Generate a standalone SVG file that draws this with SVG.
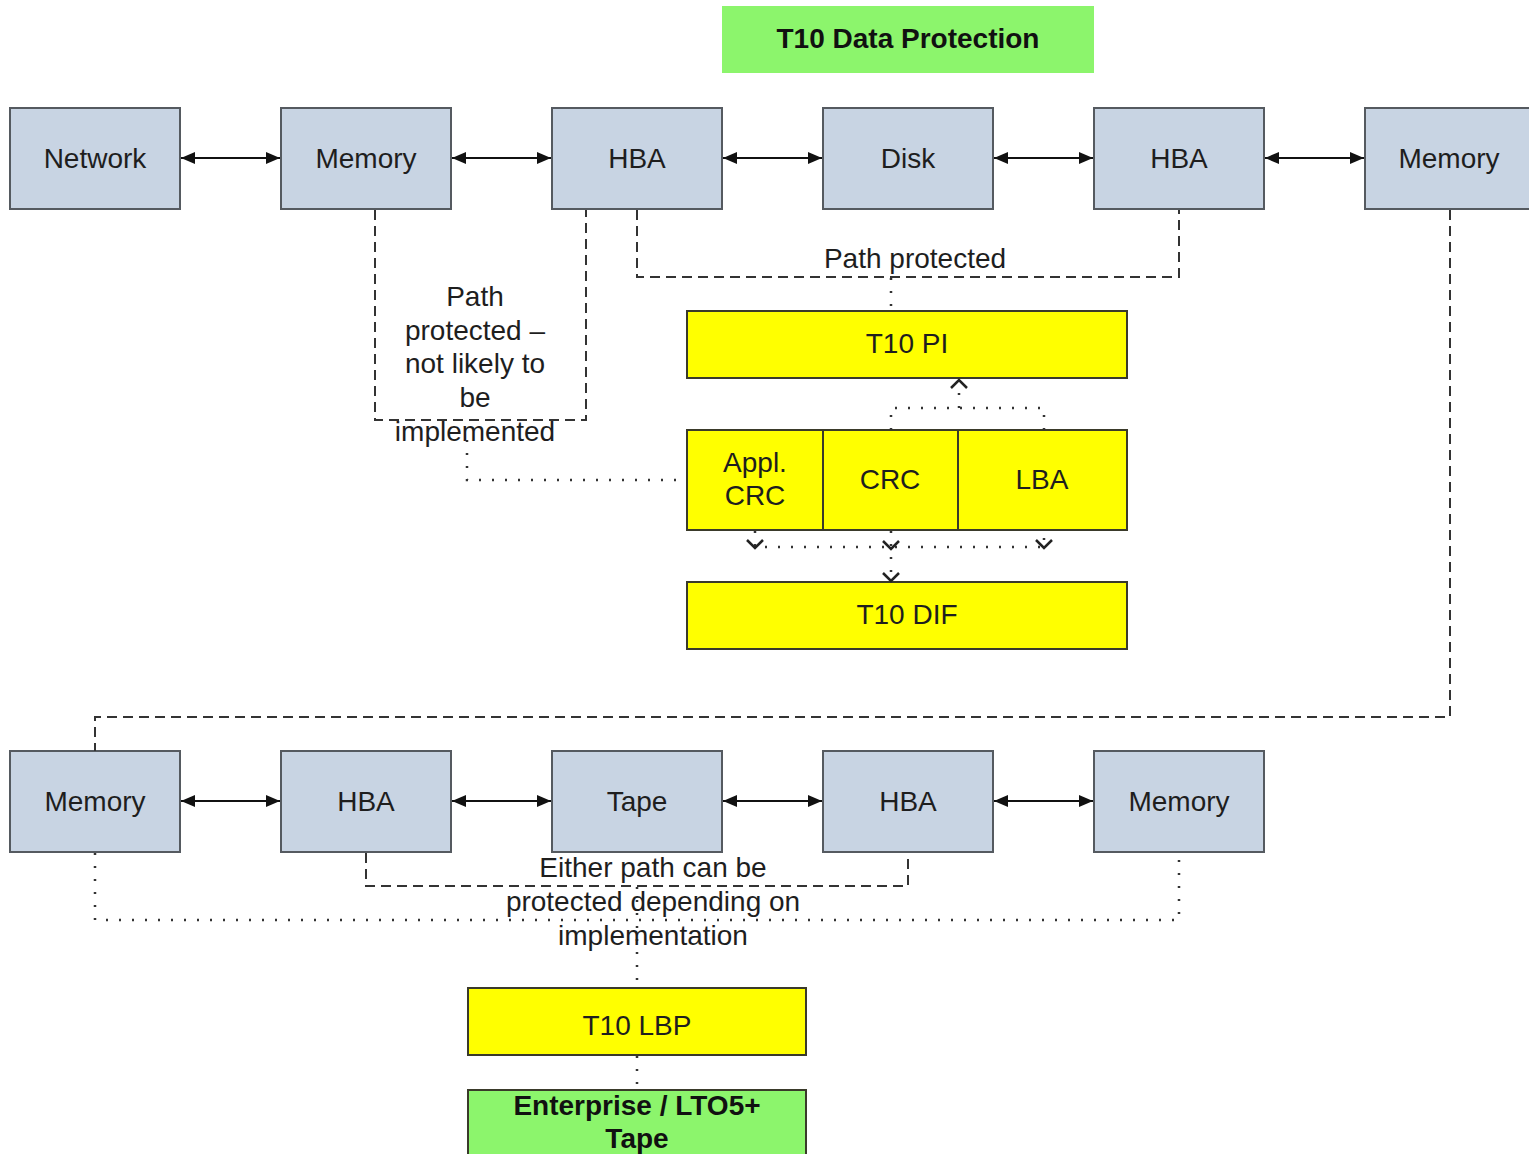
<svg xmlns="http://www.w3.org/2000/svg" width="1529" height="1154" viewBox="0 0 1529 1154">
<style>
.n{fill:#c8d4e3;stroke:#555a60;stroke-width:2}
.y{fill:#ffff00;stroke:#3a3a2a;stroke-width:2}
.g{fill:#8cf56c}
.gs{fill:#8cf56c;stroke:#3a3a2a;stroke-width:2}
.t{font-family:"Liberation Sans",Arial,sans-serif;font-size:28px;fill:#1e1e1e;text-anchor:middle}
.b{font-weight:bold;fill:#111}
.a{stroke:#111;stroke-width:2;fill:none;marker-start:url(#ah);marker-end:url(#ah)}
.d{stroke:#333;stroke-width:2;fill:none;stroke-dasharray:10 6}
.o{stroke:#333;stroke-width:2.5;fill:none;stroke-dasharray:2 11}
.ch{stroke:#222;stroke-width:2.5;fill:none}
</style>
<defs>
<marker id="ah" viewBox="0 0 14 12" refX="14" refY="6" markerWidth="14" markerHeight="12" markerUnits="userSpaceOnUse" orient="auto-start-reverse">
<path d="M0,0 L14,6 L0,12 Z" fill="#111"/>
</marker>
</defs>
<rect width="1529" height="1154" fill="#fff"/>

<g id="title"><rect class="g" x="722" y="6" width="372" height="67"/><text class="t b" x="908" y="48">T10 Data Protection</text></g>

<g id="network"><rect class="n" x="10" y="108" width="170" height="101"/><text class="t" x="95" y="168">Network</text></g>
<g id="memory1"><rect class="n" x="281" y="108" width="170" height="101"/><text class="t" x="366" y="168">Memory</text></g>
<g id="hba1"><rect class="n" x="552" y="108" width="170" height="101"/><text class="t" x="637" y="168">HBA</text></g>
<g id="disk"><rect class="n" x="823" y="108" width="170" height="101"/><text class="t" x="908" y="168">Disk</text></g>
<g id="hba2"><rect class="n" x="1094" y="108" width="170" height="101"/><text class="t" x="1179" y="168">HBA</text></g>
<g id="memory2"><rect class="n" x="1365" y="108" width="175" height="101"/><text class="t" x="1449" y="168">Memory</text></g>

<g id="t10pi"><rect class="y" x="687" y="311" width="440" height="67"/><text class="t" x="907" y="353">T10 PI</text></g>
<g id="applcrc"><rect class="y" x="687" y="430" width="136" height="100"/><text class="t" x="755" y="472">Appl.</text><text class="t" x="755" y="505">CRC</text></g>
<g id="crc"><rect class="y" x="823" y="430" width="135" height="100"/><text class="t" x="890" y="489">CRC</text></g>
<g id="lba"><rect class="y" x="958" y="430" width="169" height="100"/><text class="t" x="1042" y="489">LBA</text></g>
<g id="t10dif"><rect class="y" x="687" y="582" width="440" height="67"/><text class="t" x="907" y="624">T10 DIF</text></g>

<g id="memory3"><rect class="n" x="10" y="751" width="170" height="101"/><text class="t" x="95" y="811">Memory</text></g>
<g id="hba3"><rect class="n" x="281" y="751" width="170" height="101"/><text class="t" x="366" y="811">HBA</text></g>
<g id="tape"><rect class="n" x="552" y="751" width="170" height="101"/><text class="t" x="637" y="811">Tape</text></g>
<g id="hba4"><rect class="n" x="823" y="751" width="170" height="101"/><text class="t" x="908" y="811">HBA</text></g>
<g id="memory4"><rect class="n" x="1094" y="751" width="170" height="101"/><text class="t" x="1179" y="811">Memory</text></g>

<g id="t10lbp"><rect class="y" x="468" y="988" width="338" height="67"/><text class="t" x="637" y="1035">T10 LBP</text></g>
<g id="enterprise"><rect class="gs" x="468" y="1090" width="338" height="80"/><text class="t b" x="637" y="1115">Enterprise / LTO5+</text><text class="t b" x="637" y="1148">Tape</text></g>

<g id="connectors">
<line class="a" x1="181" y1="158" x2="280" y2="158"/>
<line class="a" x1="452" y1="158" x2="551" y2="158"/>
<line class="a" x1="723" y1="158" x2="822" y2="158"/>
<line class="a" x1="994" y1="158" x2="1093" y2="158"/>
<line class="a" x1="1265" y1="158" x2="1364" y2="158"/>
<line class="a" x1="181" y1="801" x2="280" y2="801"/>
<line class="a" x1="452" y1="801" x2="551" y2="801"/>
<line class="a" x1="723" y1="801" x2="822" y2="801"/>
<line class="a" x1="994" y1="801" x2="1093" y2="801"/>

<path class="d" d="M375,210 V420 H586 V210"/>
<path class="d" d="M637,210 V277 H1179 V210"/>
<path class="d" d="M1450,210 V717 H95 V751"/>
<path class="d" d="M366,853 V886 H908 V853"/>

<path class="o" d="M467,440 V480 H687"/>
<path class="o" d="M891,278 V311"/>
<path class="o" d="M891,430 V408 H1044 V430"/>
<path class="o" d="M959,408 V382"/>
<path class="ch" d="M951,388 L959,380 L967,388"/>
<path class="o" d="M755,531 V547 H1044 V531"/>
<path class="o" d="M891,531 V580"/>
<path class="ch" d="M747,540 L755,548 L763,540"/>
<path class="ch" d="M883,541 L891,549 L899,541"/>
<path class="ch" d="M1036,540 L1044,548 L1052,540"/>
<path class="ch" d="M883,573 L891,581 L899,573"/>
<path class="o" d="M95,853 V920 H1179 V853"/>
<path class="o" d="M637,887 V988"/>
<path class="o" d="M637,1056 V1090"/>
</g>

<g id="labels">
<text class="t" x="475" y="306">Path</text>
<text class="t" x="475" y="340">protected –</text>
<text class="t" x="475" y="373">not likely to</text>
<text class="t" x="475" y="407">be</text>
<text class="t" x="475" y="441">implemented</text>
<text class="t" x="915" y="268">Path protected</text>
<text class="t" x="653" y="877">Either path can be</text>
<text class="t" x="653" y="911">protected depending on</text>
<text class="t" x="653" y="945">implementation</text>
</g>
</svg>
